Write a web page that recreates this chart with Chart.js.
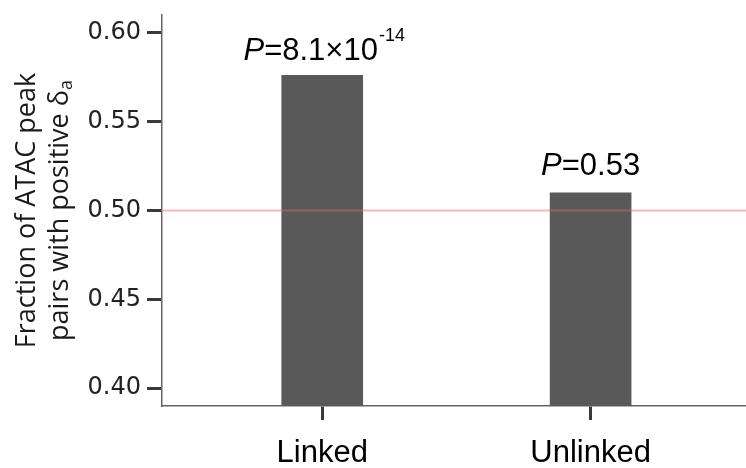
<!DOCTYPE html>
<html>
<head>
<meta charset="utf-8">
<script src="https://cdn.jsdelivr.net/npm/chart.js@4/dist/chart.umd.min.js"></script>
<style>
  html, body { margin: 0; padding: 0; background: #fff; }
  #wrap { width: 746px; height: 468px; }
</style>
</head>
<body>
<div id="wrap"><canvas id="c" width="746" height="468"></canvas></div>
<script>
// Categories and values
const categories = ['Linked', 'Unlinked'];
const fractions = [0.576, 0.510];
// P-value annotations: mantissa text and optional power-of-ten exponent
const pTexts = ['8.1\u00d710', '0.53'];
const pExponents = ['-14', ''];
// Y axis
const yTicks = [0.40, 0.45, 0.50, 0.55, 0.60];
const yMin = 0.39, yMax = 0.61;
const refLevel = 0.50;

const barColor = '#595959';
const textColor = '#1a1a1a';

// Horizontal reference line at the null level
const refLinePlugin = {
  id: 'refLine',
  afterDatasetsDraw(chart) {
    const { ctx, chartArea, scales } = chart;
    const y = scales.y.getPixelForValue(refLevel);
    ctx.save();
    ctx.strokeStyle = 'rgba(236,100,100,0.45)';
    ctx.lineWidth = 2;
    ctx.beginPath();
    ctx.moveTo(chartArea.left + 1, y);
    ctx.lineTo(chartArea.right, y);
    ctx.stroke();
    ctx.restore();
  }
};

// P-value labels above the bars
const pLabelPlugin = {
  id: 'pLabels',
  afterDraw(chart) {
    const { ctx } = chart;
    const meta = chart.getDatasetMeta(0);
    const gaps = [15, 18];
    const shift = [2, 0];
    ctx.save();
    ctx.fillStyle = '#000';
    ctx.textBaseline = 'alphabetic';
    ctx.textAlign = 'left';
    meta.data.forEach((bar, i) => {
      const italic = 'italic 31px "Liberation Sans", Arial, sans-serif';
      const normal = '31px "Liberation Sans", Arial, sans-serif';
      const small = '18px "Liberation Sans", Arial, sans-serif';
      ctx.font = italic; const wP = ctx.measureText('P').width;
      ctx.font = normal; const wT = ctx.measureText('=' + pTexts[i]).width;
      ctx.font = small; const wE = pExponents[i] ? ctx.measureText(pExponents[i]).width + 1 : 0;
      const total = wP + wT + wE;
      let x = bar.x + shift[i] - total / 2;
      const y = bar.y - gaps[i];
      ctx.font = italic; ctx.fillText('P', x, y); x += wP;
      ctx.font = normal; ctx.fillText('=' + pTexts[i], x, y); x += wT;
      if (pExponents[i]) { ctx.font = small; ctx.fillText(pExponents[i], x + 1, y - 19); }
    });
    ctx.restore();
  }
};

// Two-line rotated y-axis title with a subscript
const yTitlePlugin = {
  id: 'yTitle',
  afterDraw(chart) {
    const { ctx, chartArea } = chart;
    const cy = (chartArea.top + chartArea.bottom) / 2;
    const main = '27px "Open Sans", sans-serif';
    const sub = '18px "Open Sans", sans-serif';
    ctx.save();
    ctx.fillStyle = textColor;
    ctx.textBaseline = 'alphabetic';
    // line 1
    ctx.save();
    ctx.translate(35, cy);
    ctx.rotate(-Math.PI / 2);
    ctx.font = main;
    ctx.textAlign = 'center';
    ctx.fillText('Fraction of ATAC peak', 0, 0);
    ctx.restore();
    // line 2
    ctx.save();
    ctx.translate(68, cy);
    ctx.rotate(-Math.PI / 2);
    ctx.textAlign = 'left';
    const t2 = 'pairs with positive \u03b4';
    ctx.font = main; const w2 = ctx.measureText(t2).width;
    ctx.font = sub; const ws = ctx.measureText('a').width;
    const x0 = -(w2 + ws) / 2;
    ctx.font = main; ctx.fillText(t2, x0, 0);
    ctx.font = sub; ctx.fillText('a', x0 + w2, 4);
    ctx.restore();
    ctx.restore();
  }
};

new Chart(document.getElementById('c'), {
  type: 'bar',
  data: {
    datasets: [{
      data: categories.map((c, i) => ({ x: i, y: fractions[i] })),
      backgroundColor: barColor,
      borderWidth: 0,
      barThickness: 81
    }]
  },
  options: {
    responsive: false,
    devicePixelRatio: 1,
    animation: false,
    layout: { padding: { top: 15, right: 0, left: 0, bottom: 0 } },
    plugins: { legend: { display: false }, tooltip: { enabled: false } },
    scales: {
      x: {
        type: 'linear',
        min: -0.597,
        max: 1.579,
        offset: false,
        afterBuildTicks: (s) => { s.ticks = categories.map((c, i) => ({ value: i })); },
        afterFit: (s) => { s.height = 62; s.paddingLeft = 0; s.paddingRight = 0; },
        ticks: {
          callback: (v) => categories[v] ?? '',
          font: { family: '"Liberation Sans", Arial, sans-serif', size: 31 },
          color: '#000',
          padding: 15,
          maxRotation: 0,
          autoSkip: false
        },
        grid: { offset: false, drawOnChartArea: false, tickLength: 14, tickWidth: 3, tickColor: '#3a3a3a' },
        border: { color: '#666', width: 1.5 }
      },
      y: {
        min: yMin,
        max: yMax,
        afterBuildTicks: (s) => { s.ticks = yTicks.map(v => ({ value: v })); },
        afterFit: (s) => { s.width = 162; s.paddingTop = 0; s.paddingBottom = 0; },
        ticks: {
          callback: (v) => v.toFixed(2),
          font: { family: '"DejaVu Sans", sans-serif', size: 24 },
          color: '#222',
          padding: 6
        },
        grid: { drawOnChartArea: false, tickLength: 15, tickWidth: 3, tickColor: '#3a3a3a' },
        border: { color: '#666', width: 1.5 }
      }
    }
  },
  plugins: [refLinePlugin, pLabelPlugin, yTitlePlugin]
});
</script>
</body>
</html>
